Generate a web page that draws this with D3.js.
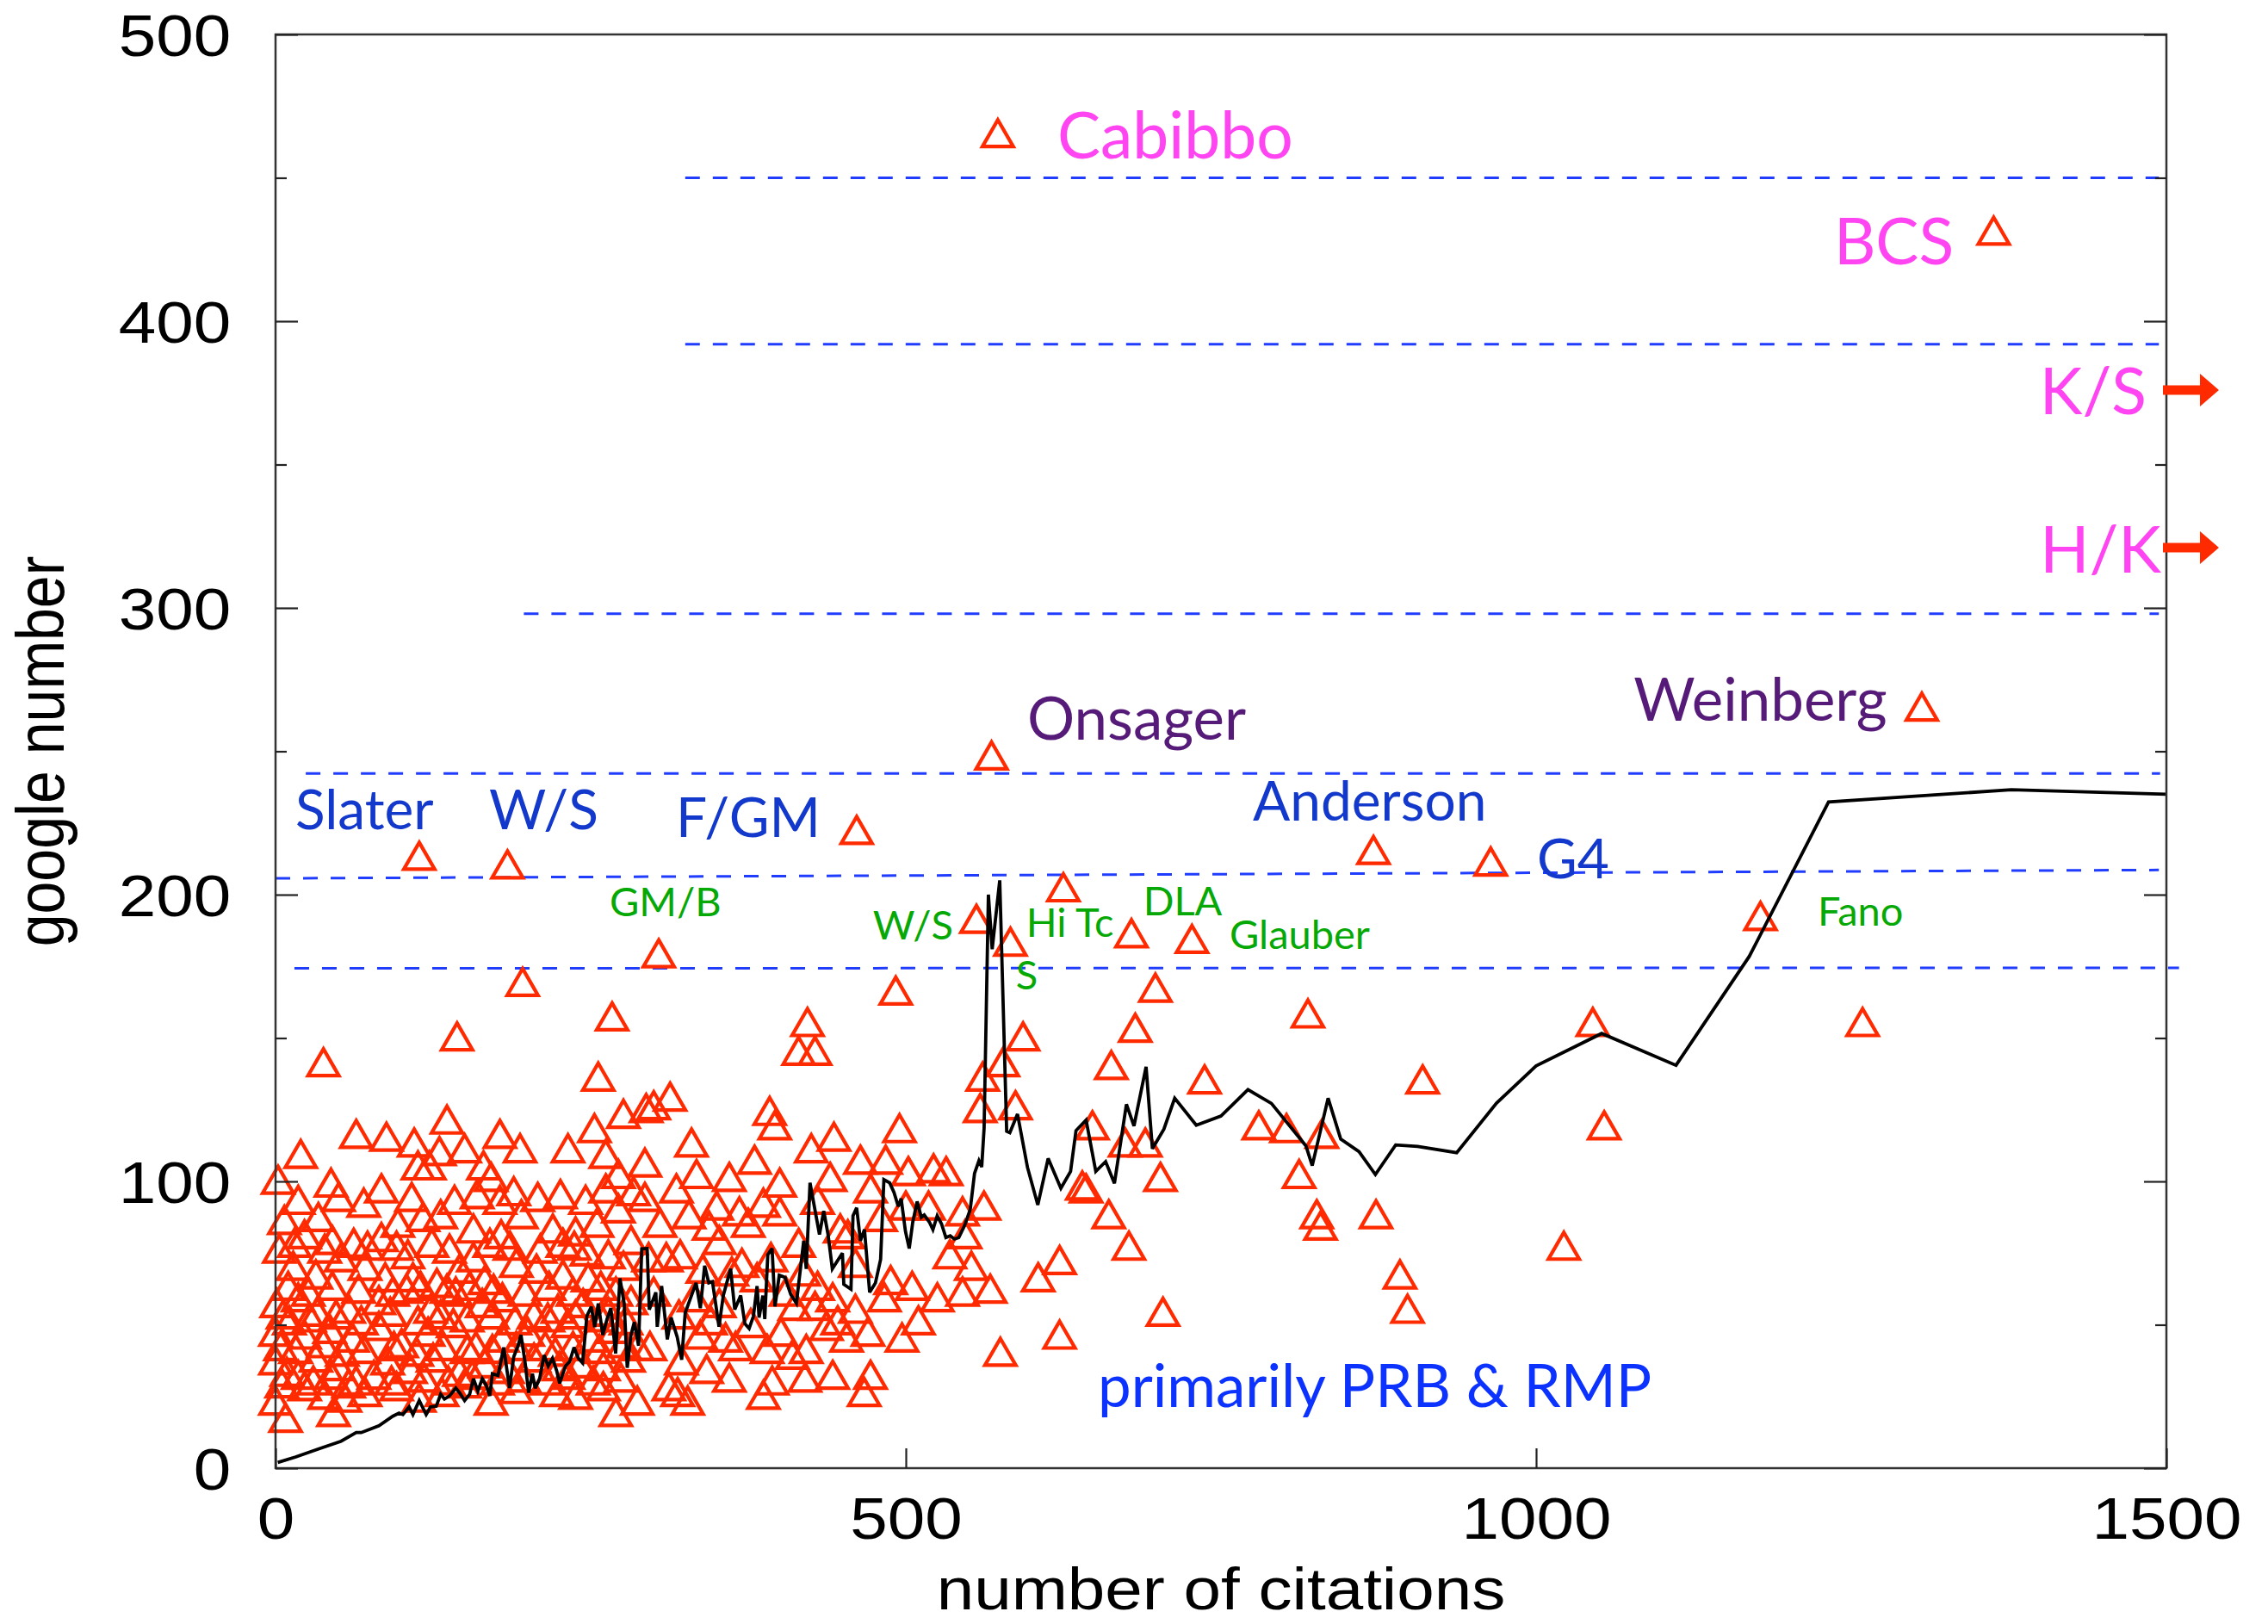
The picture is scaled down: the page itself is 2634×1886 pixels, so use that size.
<!DOCTYPE html>
<html><head><meta charset="utf-8">
<script src="https://cdn.jsdelivr.net/npm/d3@7"></script>
<style>
html,body{margin:0;padding:0;background:#fff;}
svg{display:block;}
</style></head><body>
<svg id="chart" width="2634" height="1886"></svg>
<script>
// ---- data ----------------------------------------------------------------
// papers: [number of citations, google number]
const papers = [
  [573,464],[1363,430],[1306,264],[568,247],[114,212],[184,209],[461,221],[304,178],[196,168],[144,149],
  [267,156],[422,154],[492,165],[556,190],[583,182],[625,201],[679,185],[727,183],[871,214],[964,210],
  [698,166],[819,157],[428,144],[415,144],[682,152],[593,149],[663,139],[577,140],[737,134],[910,134],
  [780,118],[802,117],[830,115],[812,101],[826,87],[829,83],[873,87],[892,66],[898,54],[704,53],
  [622,45],[622,71],[605,65],[648,118],[640,97],[643,96],[661,87],[677,76],[690,112],[674,112],
  [702,100],[587,125],[561,135],[559,124],[562,90],[567,61],[575,39],[552,69],[547,80],[545,88],
  [1178,191],[1045,154],[1259,154],[1054,118],[1022,76],
  [294,124],[300,125],[313,128],[392,123],[396,118],[443,114],[495,117],[293,105],[293,93],[334,101],
  [360,100],[400,98],[464,106],[484,106],[502,102],[522,103],[532,102],[472,96],[518,90],[328,87],
  [368,88],[400,88],[344,83],[387,91],[296,72],[310,72],[321,73],[339,68],[362,67],[382,65],
  [393,72],[415,77],[419,67],[448,82],[454,80],[442,58],[460,54],[446,50],[453,44],[472,31],
  [467,25],[497,44],[525,58],[488,64],[483,58],[394,29],[387,24],[327,22],[319,25],[322,36],
  [287,22],[297,41],[337,45],[357,44],[365,41],[377,49],[412,55],[401,46],[421,40],[428,55],
  [437,48],[332,58],[352,56],
  [312,27],[342,33],[442,31],[360,30],[420,30],[410,38],
  [305,84],[318,96],[352,78],[375,84],[430,92],[460,70],[405,60],[370,70],[350,90],[440,100],
  [425,110],[380,106],[330,112],[480,86],[500,90],[300,60],[320,52],[345,50],[390,40],[430,62],
  [470,46],[505,62],[510,50],[535,73],[545,60],
  [38,140],[256,135],[276,122],[253,117],[64,115],[88,114],[136,120],[130,109],[122,104],[113,104],
  [194,110],[272,101],[2,99],[44,98],[84,96],[165,104],[171,100],[189,95],
  [20,108],[110,112],[150,110],[178,115],[232,110],[262,108],
  [18,92],[50,93],[70,91],[108,93],[142,92],[160,94],[178,92],[208,93],[226,94],[246,92],[262,96],[284,95],
  [7,85],[34,86],[97,84],[117,86],[131,87],[157,82],[195,87],[220,82],[238,81],[255,84],[272,89],[179,80],
  [23,80],[39,75],[52,72],[105,73],[157,72],[264,73],[237,76],[73,76],
  [3,75],[15,77],[45,78],[62,77],[84,79],[96,76],[124,77],[138,75],[170,77],[186,76],[210,75],[228,77],[247,74],[282,78],
  [14,69],[32,66],[71,69],[87,65],[109,65],[128,63],[146,68],[166,64],[191,70],[207,68],[228,66],[248,65],[276,69],
  [10,62],[26,60],[45,62],[66,61],[93,60],[115,62],[136,61],[154,62],[173,61],[198,60],[217,62],[236,60],[258,62],[270,60],
  [1,56],[18,58],[33,53],[58,54],[82,57],[104,61],[123,54],[143,60],[164,56],[180,58],[205,52],[224,54],[244,56],[264,53],[282,57],
  [6,52],[27,51],[48,52],[68,50],[91,53],[113,50],[131,52],[152,51],[172,52],[190,50],[216,51],[238,52],[258,51],[278,50],
  [0,46],[11,50],[23,45],[43,47],[61,44],[82,48],[100,42],[121,46],[141,49],[159,41],[180,44],[200,46],[214,41],[232,49],[250,44],[269,47],[287,41],
  [4,41],[16,40],[38,42],[53,39],[70,40],[94,41],[112,39],[133,41],[152,40],[172,40],[191,41],[222,39],[236,41],[257,40],[276,42],
  [0,36],[9,32],[32,37],[50,34],[64,29],[89,36],[107,33],[125,37],[146,32],[166,35],[184,33],[205,37],[225,34],[242,35],[260,34],[280,37],
  [5,28],[18,31],[30,29],[44,31],[58,28],[78,31],[92,29],[118,30],[137,29],[156,31],[176,29],[197,30],[215,29],[232,31],[252,29],[274,30],
  [0,22],[23,27],[39,24],[55,23],[71,25],[96,27],[114,23],[132,25],[150,28],[171,22],[191,26],[223,25],[238,24],[260,27],[270,18],
  [8,16],[46,18]
];

// running average of google number vs citations
const runningMean = [
  [1.8,2.0],[16,3.9],[34,6.7],[52,9.4],[64,12.4],[68,12.4],[82,14.8],[93,18.1],[98,19.2],[101,18.7],
  [106,21.4],[109,18.7],[114,23.6],[119.5,18.7],[123,21.4],[127.5,21.6],[131,25.8],[134,24.1],[138,25.2],[143,27.9],
  [146,26.3],[150,23.6],[154,25.8],[157,31.2],[160.5,26.9],[164,31.2],[167,29],[170,25.2],[172,32.9],[176.5,32.3],
  [181,42.1],[185.6,27.9],[189,38.9],[192.4,42.7],[194.7,46.5],[198,36.7],[200.8,26.3],[203.8,32.9],[206,27.9],[209.5,31.2],
  [213,39.4],[216.3,35.6],[219.7,38.3],[223,34],[225.4,29.6],[230,35.6],[233.4,37.2],[236.8,42.1],[240.2,38.3],[243.6,36.7],
  [247,53.1],[250.5,56.3],[253.2,49.2],[256,57.4],[259.6,46.5],[263,52],[266,55.8],[269.8,40],[273.2,66.2],[276.6,57.4],
  [279,35],[282,46.5],[284.6,50.9],[288,42.7],[290.5,76.5],[294.8,76.6],[296.5,55.3],[301.7,61.3],[302.8,49.3],[306.3,63.5],
  [310.8,44.9],[313.8,52.5],[318.6,45.8],[322.2,37.8],[325,54.2],[327.7,57.5],[333.6,64.6],[337,55.8],[340.4,70.6],[343.7,64.6],
  [346.6,65],[351.8,49.3],[355.2,60.2],[361,69.5],[364.3,55.3],[369,60.2],[372.3,50.4],[375.7,48.7],[379.1,53],[382,63.5],
  [383.6,52.5],[386.6,60.2],[388.1,52],[390.5,74.4],[393.9,76.6],[396.2,56.4],[399.6,67.3],[404.2,66.5],[408.7,60.6],[413.2,57.5],
  [419,79.3],[421,69.5],[424,99.5],[431.5,81.5],[434.9,89.7],[438.3,81.5],[441.7,69.5],[449.7,75],[450.8,64.1],[456.5,62.4],
  [458.1,88],[461,90.8],[464,79.3],[467.2,83.2],[471.3,61.3],[475.9,64.6],[480,72.8],[482.6,100.6],[487.2,99.5],[490.6,96.2],
  [494,91.3],[496.3,94],[499.7,82.6],[502.7,76.6],[505.5,85.8],[509,93],[512.3,87.5],[514.6,88.3],[518.7,85.8],[521.5,83.2],
  [524.9,88],[528.3,85.2],[531.8,80.4],[535.2,81],[538.6,79.9],[542,80.4],[546.6,84.6],[551.1,90.2],[554.5,102.8],[558,107.2],
  [560.2,105],[562.1,118.6],[565.5,200],[568.5,181],[574.5,205],[580,117.5],[582.5,117],[588.6,123.5],[596.5,104.9],[604.7,91.8],
  [612.9,108],[623,97.6],[630.7,103.5],[635,117.7],[643,121.4],[650.7,103.5],[658.5,106.9],[665.5,99.3],[675,126.9],[681,119.3],
  [690.6,140],[695.6,111.4],[704.7,118.2],[713.3,129],[730.4,119.6],[750,122.8],[771.4,132],[790,127.2],[817.4,112.4],[822.4,105.5],
  [835,129],[845,114.8],[859.5,110.4],[872.5,102.4],[888.6,112.7],[906,112.2],[937,110],[968.6,127.3],[1000,140.3],[1052,151.6],
  [1111,140.5],[1169,178.4],[1232,232.3],[1377,236.6],[1500,235]
];

// horizontal reference levels (dashed): start/end citations, level at start/end
const refStart    = [325, 325, 197, 24, 0, 15];
const refEnd      = [1494, 1494, 1494, 1495, 1494, 1510];
const refLevelA   = [450, 392, 298, 242.3, 205.7, 174.3];
const refLevelB   = [450, 392, 298, 242.3, 208.6, 174.5];

// papers beyond the citation range, marked with arrows at the right edge
const offscaleNames  = ["K/S", "H/K"];
const offscaleGoogle = [376, 321];

// axis ticks
const xTicks = [0, 500, 1000, 1500];
const yTicks = [0, 100, 200, 300, 400, 500];
const yMinorTicks = [50, 150, 250, 350, 450];

// annotations: text and anchor (citations, google number)
const noteText  = ["Cabibbo","BCS","K/S","H/K","Onsager","Weinberg","Slater","W/S","F/GM","Anderson","G4",
                   "GM/B","W/S","Hi Tc","S","DLA","Glauber","Fano","primarily PRB & RMP"];
const noteX     = [620.2,1331.4,1484.3,1495.9,596.3,1278.4,15.7,169.4,432.3,775.3,1000.7,
                   265,537.6,595.4,587.2,688.3,756.8,1223.3,652.3];
const noteY     = [456.8,419.8,367.6,312.3,254.1,260.7,222.8,222.8,220.1,225.8,205.7,
                   192.5,184.4,185.3,167,192.8,181.2,189.3,21.4];
const noteKind  = ["top","top","top","top","famous","famous","blue","blue","blue","blue","blue",
                   "green","green","green","green","green","green","green","journal"];
const noteAlign = ["start","end","end","end","start","end","start","start","end","start","start",
                   "start","end","start","start","start","start","start","start"];

// ---- styles --------------------------------------------------------------
const noteStyle = {
  top:     {color:"#ff45f2", size:75},
  famous:  {color:"#561a78", size:69},
  blue:    {color:"#1238cc", size:64},
  green:   {color:"#06a806", size:47},
  journal: {color:"#0b32ff", size:69}
};
const tickFont = "'Liberation Sans', Arial, Helvetica, sans-serif";
const noteFont = "Lato, 'Noto Sans', sans-serif";
const stretch = 1.15;   // the tick and axis lettering is set slightly wide

// ---- layout --------------------------------------------------------------
const svg = d3.select("#chart");
const x = d3.scaleLinear().domain([0, 1500]).range([320, 2516]);
const y = d3.scaleLinear().domain([0, 500]).range([1705, 40]);

// reference levels
const refs = refStart.map((s, i) => ({s, e: refEnd[i], a: refLevelA[i], b: refLevelB[i]}));
svg.append("g").selectAll("line").data(refs).join("line")
  .attr("x1", d => x(d.s)).attr("x2", d => x(d.e))
  .attr("y1", d => y(d.a)).attr("y2", d => y(d.b))
  .attr("stroke", "#1f3cff").attr("stroke-width", 3)
  .attr("stroke-dasharray", "17,15");

// papers as open triangles
const tri = d3.symbol().type(d3.symbolTriangle).size(555);
svg.append("g").selectAll("path").data(papers).join("path")
  .attr("transform", d => `translate(${x(d[0])},${y(d[1])})`)
  .attr("d", tri)
  .attr("fill", "none").attr("stroke", "#ff2a00").attr("stroke-width", 4.2)
  .attr("stroke-linejoin", "miter");

// running mean
svg.append("path").datum(runningMean)
  .attr("d", d3.line().x(d => x(d[0])).y(d => y(d[1])))
  .attr("fill", "none").attr("stroke", "#000").attr("stroke-width", 3.8)
  .attr("stroke-linejoin", "miter").attr("stroke-miterlimit", 3);

// frame
svg.append("rect")
  .attr("x", x(0)).attr("y", y(500))
  .attr("width", x(1500) - x(0)).attr("height", y(0) - y(500))
  .attr("fill", "none").attr("stroke", "#333").attr("stroke-width", 2.5);

function styleAxis(g) {
  g.select(".domain").remove();
  g.selectAll(".tick line").attr("stroke", "#222").attr("stroke-width", 2.2);
  g.selectAll("text")
    .attr("font-family", tickFont).attr("font-size", 68).attr("fill", "#000");
}

// left axis with labels
const gl = svg.append("g").attr("transform", `translate(${x(0)},0)`)
  .call(d3.axisLeft(y).tickValues(yTicks).tickSize(-26).tickPadding(45).tickFormat(d3.format("d")));
styleAxis(gl);
gl.selectAll("text").attr("dy", "0.36em").attr("transform", `scale(${stretch},1)`);
svg.append("g").attr("transform", `translate(${x(0)},0)`)
  .call(d3.axisLeft(y).tickValues(yMinorTicks).tickSize(-13).tickFormat(""))
  .call(styleAxis);

// right axis, ticks only
svg.append("g").attr("transform", `translate(${x(1500)},0)`)
  .call(d3.axisRight(y).tickValues(yTicks).tickSize(-26).tickFormat(""))
  .call(styleAxis);
svg.append("g").attr("transform", `translate(${x(1500)},0)`)
  .call(d3.axisRight(y).tickValues(yMinorTicks).tickSize(-13).tickFormat(""))
  .call(styleAxis);

// bottom axis
const gb = svg.append("g").attr("transform", `translate(0,${y(0)})`)
  .call(d3.axisBottom(x).tickValues(xTicks).tickSize(-23).tickPadding(34).tickFormat(d3.format("d")));
styleAxis(gb);
gb.selectAll("text").attr("transform", `scale(${stretch},1)`);

// axis titles
svg.append("text")
  .attr("transform", `translate(${(x(0) + x(1500)) / 2},1869) scale(${stretch},1)`)
  .attr("text-anchor", "middle")
  .attr("font-family", tickFont).attr("font-size", 68)
  .text("number of citations");
svg.append("text")
  .attr("transform", `translate(74,${y(250)}) scale(${stretch},1) rotate(-90)`)
  .attr("text-anchor", "middle")
  .attr("font-family", tickFont).attr("font-size", 68)
  .text("google number");

// off-scale arrows at the right edge
const off = offscaleGoogle.map((g, i) => ({g, name: offscaleNames[i]}));
svg.append("g").selectAll("path").data(off).join("path")
  .attr("transform", d => `translate(${x(1500) - 4},${y(d.g)})`)
  .attr("d", "M0,-5.5 L43,-5.5 L43,-19 L65,0 L43,19 L43,5.5 L0,5.5 Z")
  .attr("fill", "#ff2a00");

// annotations
const notes = noteText.map((t, i) => ({t, cx: noteX[i], gy: noteY[i], kind: noteKind[i], align: noteAlign[i]}));
svg.append("g").selectAll("text").data(notes).join("text")
  .attr("x", d => x(d.cx)).attr("y", d => y(d.gy))
  .attr("text-anchor", d => d.align)
  .attr("font-family", noteFont)
  .attr("font-size", d => noteStyle[d.kind].size)
  .attr("fill", d => noteStyle[d.kind].color)
  .text(d => d.t);
</script>
</body></html>
